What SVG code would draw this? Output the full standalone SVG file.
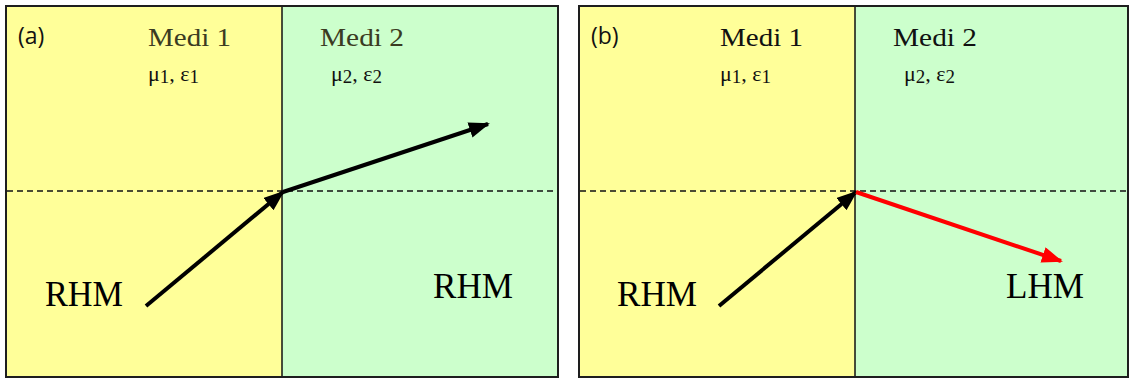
<svg xmlns="http://www.w3.org/2000/svg" width="1129" height="379" viewBox="0 0 1129 379">
  <style>
    .frame { stroke: #1e1e1e; stroke-width: 2; fill: none; }
    .m1 { fill: #ffff99; }
    .m2 { fill: #ccffcc; }
    .div { stroke: #111; stroke-width: 1.5; }
    .dash { stroke: #111; stroke-width: 1.3; stroke-dasharray: 6 4; }
    .tag { font-family: "Open Sans", "Noto Sans", sans-serif; font-size: 23px; fill: #111; }
    .medi { font-family: "Liberation Serif", serif; font-size: 25px; fill: #111; }
    .medi.soft { fill: #3b3b22; }
    .par { font-family: "Liberation Serif", serif; font-size: 22px; fill: #111; }
    .sub { font-size: 19px; }
    .mode { font-family: "Liberation Serif", serif; font-size: 36px; fill: #000; }
    .ray { stroke: #000; stroke-width: 4; fill: none; }
    .ray.red { stroke: #ff0000; }
  </style>
  <defs>
    <marker id="headK" markerUnits="userSpaceOnUse" markerWidth="22" markerHeight="18" refX="19" refY="8" orient="auto">
      <path d="M0,0 L21,8 L0,16 Z" fill="#000"/>
    </marker>
    <marker id="headR" markerUnits="userSpaceOnUse" markerWidth="22" markerHeight="18" refX="19" refY="8" orient="auto">
      <path d="M0,0 L21,8 L0,16 Z" fill="#ff0000"/>
    </marker>
  </defs>

  <!-- panel (a): right-handed to right-handed medium -->
  <g id="panel-a">
    <rect class="m1" x="6" y="6" width="276" height="371"/>
    <rect class="m2" x="282" y="6" width="276" height="371"/>
    <line class="div" x1="282" y1="6" x2="282" y2="377"/>
    <line class="dash" x1="7" y1="191" x2="557" y2="191"/>
    <rect class="frame" x="6" y="6" width="552" height="371"/>
    <text class="tag" x="18" y="44">(a)</text>
    <text class="medi soft" x="148" y="46" textLength="83" lengthAdjust="spacingAndGlyphs">Medi 1</text>
    <text class="medi soft" x="320" y="46" textLength="84" lengthAdjust="spacingAndGlyphs">Medi 2</text>
    <text class="par" x="148" y="81">μ<tspan class="sub" dy="2">1</tspan><tspan dy="-2">, ε</tspan><tspan class="sub" dy="2">1</tspan></text>
    <text class="par" x="331" y="81">μ<tspan class="sub" dy="2">2</tspan><tspan dy="-2">, ε</tspan><tspan class="sub" dy="2">2</tspan></text>
    <text class="mode" x="45" y="306" textLength="78" lengthAdjust="spacingAndGlyphs">RHM</text>
    <text class="mode" x="433" y="298" textLength="80" lengthAdjust="spacingAndGlyphs">RHM</text>
  </g>

  <!-- panel (b): right-handed to left-handed medium -->
  <g id="panel-b">
    <rect class="m1" x="579" y="6" width="276" height="371"/>
    <rect class="m2" x="855" y="6" width="274" height="371"/>
    <line class="div" x1="855" y1="6" x2="855" y2="377"/>
    <line class="dash" x1="580" y1="191" x2="1129" y2="191"/>
    <rect class="frame" x="579" y="6" width="549" height="371"/>
    <text class="tag" x="591" y="44">(b)</text>
    <text class="medi" x="720" y="46" textLength="83" lengthAdjust="spacingAndGlyphs">Medi 1</text>
    <text class="medi" x="893" y="46" textLength="84" lengthAdjust="spacingAndGlyphs">Medi 2</text>
    <text class="par" x="720" y="81">μ<tspan class="sub" dy="2">1</tspan><tspan dy="-2">, ε</tspan><tspan class="sub" dy="2">1</tspan></text>
    <text class="par" x="904" y="81">μ<tspan class="sub" dy="2">2</tspan><tspan dy="-2">, ε</tspan><tspan class="sub" dy="2">2</tspan></text>
    <text class="mode" x="617" y="306" textLength="80" lengthAdjust="spacingAndGlyphs">RHM</text>
    <text class="mode" x="1006" y="298" textLength="78" lengthAdjust="spacingAndGlyphs">LHM</text>
  </g>

  <!-- rays -->
  <g id="connectors">
    <line class="ray" x1="146" y1="306" x2="283" y2="192" marker-end="url(#headK)"/>
    <line class="ray" x1="283" y1="192" x2="488" y2="124" marker-end="url(#headK)"/>
    <line class="ray" x1="719" y1="306" x2="856" y2="192" marker-end="url(#headK)"/>
    <line class="ray red" x1="856" y1="192" x2="1061" y2="261" marker-end="url(#headR)"/>
  </g>
</svg>
